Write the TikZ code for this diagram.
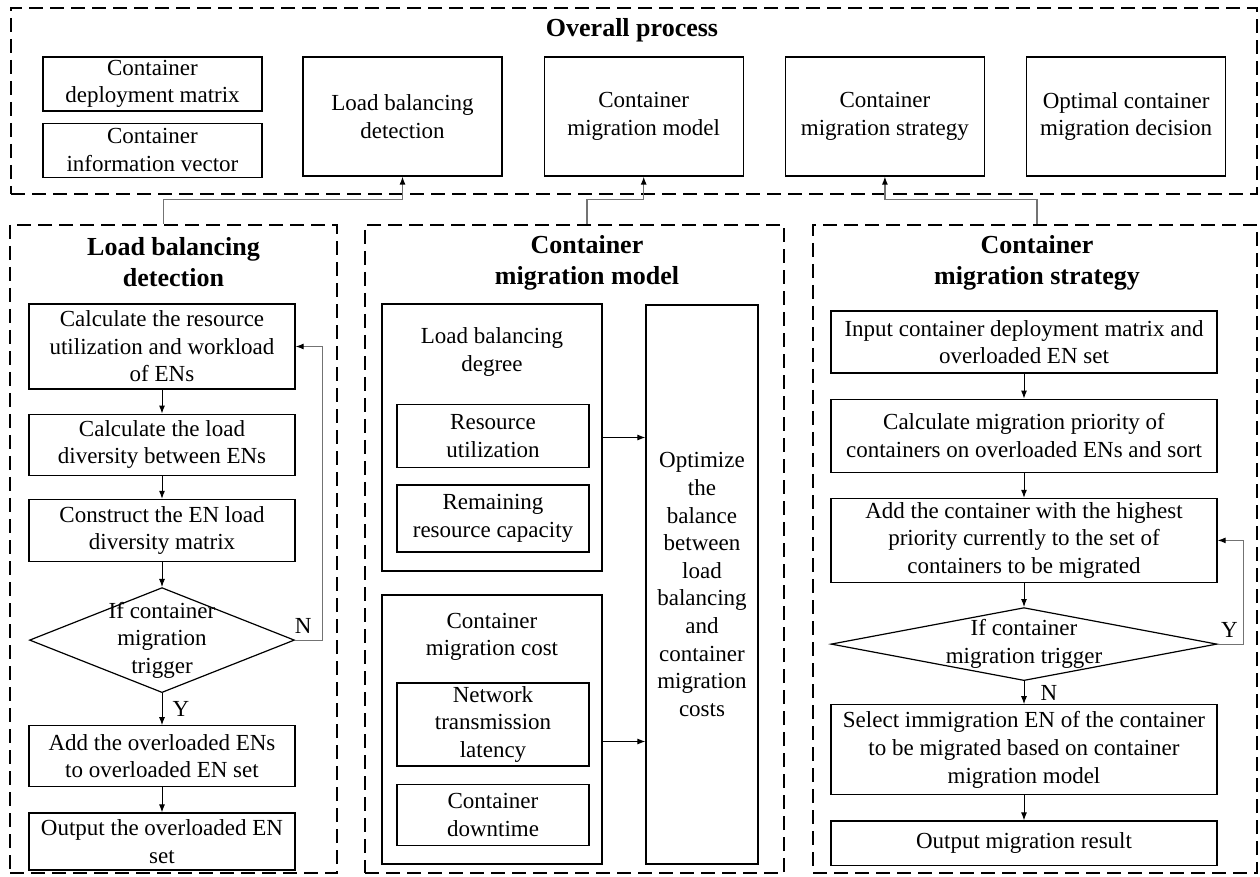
\documentclass[tikz,border=0pt]{standalone}
\usepackage{fontspec}
\setmainfont{Liberation Serif}
\usepackage{tikz}
\usetikzlibrary{arrows.meta,positioning,shapes.geometric}

\begin{document}
\begin{tikzpicture}[
  x=0.5pt, y=-0.5pt,
  every node/.style={font=\fontsize{11.5}{13.8}\selectfont},
  dashframe/.style={draw, line width=1.2pt, dash pattern=on 7pt off 3.5pt},
  heading/.style={align=center, font=\fontsize{13}{15.5}\selectfont\bfseries},
  box/.style={draw, line width=0.6pt, align=center, inner sep=1pt},
  cond/.style={draw, diamond, line width=0.6pt, inner sep=0pt},
  grouptitle/.style={anchor=north, align=center, inner sep=0pt},
  tag/.style={inner sep=3pt, text=black},
  arr/.style={-{Latex[length=4pt,width=3pt]}, line width=0.5pt},
  link/.style={-{Latex[length=4pt,width=3pt,color=black]}, line width=0.6pt, black!55}
]
  \useasboundingbox (0,0) rectangle (1260,877);

  % overall process
  \node[dashframe, minimum width=623pt, minimum height=93pt] (overall) at (634,101) {};
  \node[heading] (overalltitle) at (632,30) {Overall process};
  \node[box, minimum width=109.5pt, minimum height=27pt] (deploy) at (152.5,84) {Container\\deployment matrix};
  \node[box, minimum width=109.5pt, minimum height=27pt, below=5.5pt of deploy] (info) {Container\\information vector};
  \node[box, minimum width=99.5pt, minimum height=59.5pt] (lbd) at (402.5,116.5) {Load balancing\\detection};
  \node[box, minimum width=99.5pt, minimum height=59.5pt, right=20.5pt of lbd] (cmm) {Container\\migration model};
  \node[box, minimum width=99.5pt, minimum height=59.5pt, right=20.5pt of cmm] (cms) {Container\\migration strategy};
  \node[box, minimum width=99.5pt, minimum height=59.5pt, right=20.5pt of cms] (ocmd) {Optimal container\\migration decision};

  % lower panels
  \node[dashframe, minimum width=163.5pt, minimum height=324pt] (lbdpanel) at (173.5,549) {};
  \node[heading] (lbdtitle) at (173.5,262.5) {Load balancing\\detection};
  \node[dashframe, minimum width=209.5pt, minimum height=324pt] (cmmpanel) at (574.5,549) {};
  \node[heading] (cmmtitle) at (587,262.5) {Container\\migration model};
  \node[dashframe, minimum width=222pt, minimum height=324pt] (cmspanel) at (1035,549) {};
  \node[heading] (cmstitle) at (1037,262.5) {Container\\migration strategy};

  \draw[link] ([xshift=-5pt]lbdtitle.north |- lbdpanel.north) -- ++(0,-24) -| (lbd.south);
  \draw[link] (cmmtitle |- cmmpanel.north) -- ++(0,-24) -| (cmm.south);
  \draw[link] (cmstitle |- cmspanel.north) -- ++(0,-24) -| (cms.south);

  % load balancing detection
  \node[box, minimum width=133pt, minimum height=42.5pt] (calc) at (162,346.5) {Calculate the resource\\utilization and workload\\of ENs};
  \node[box, minimum width=133pt, minimum height=30.5pt, below=12pt of calc] (diver) {Calculate the load\\diversity between ENs};
  \node[box, minimum width=133pt, minimum height=31pt, below=11.5pt of diver] (matrix) {Construct the EN load\\diversity matrix};
  \node[cond, minimum width=132.5pt, minimum height=52.5pt, below=12.5pt of matrix,
        label={[align=center]center:If container\\migration\\trigger}] (trig) {};
  \node[box, minimum width=133pt, minimum height=30.5pt, below=16pt of trig] (addset) {Add the overloaded ENs\\to overloaded EN set};
  \node[box, minimum width=133pt, minimum height=28.5pt, below=12.5pt of addset] (outset) {Output the overloaded EN\\set};

  \draw[arr] (calc) -- (diver);
  \draw[arr] (diver) -- (matrix);
  \draw[arr] (matrix) -- (trig);
  \draw[arr] (trig) -- node[tag, right, xshift=2pt] {Y} (addset);
  \draw[arr] (addset) -- (outset);
  \draw[link] (trig.east) -- node[tag, above, pos=0.3] {N} ++(27,0) |- (calc.east);

  % container migration model
  \node[box, minimum width=110pt, minimum height=133.5pt,
        label={[grouptitle, yshift=-12pt]north:Load balancing\\degree}] (degree) at (492,437.5) {};
  \node[box, minimum width=96pt, minimum height=31.75pt] (util) at (493,436) {Resource\\utilization};
  \node[box, minimum width=96pt, minimum height=33.5pt, below=8pt of util] (remain) {Remaining\\resource capacity};
  \node[box, minimum width=110pt, minimum height=134.5pt,
        label={[grouptitle, yshift=-9pt]north:Container\\migration cost}] (cost) at (492,729.5) {};
  \node[box, minimum width=96pt, minimum height=41.5pt] (latency) at (493,724.5) {Network\\transmission\\latency};
  \node[box, minimum width=96pt, minimum height=30.5pt, below=8.5pt of latency] (downtime) {Container\\downtime};
  \node[box, minimum width=56pt, minimum height=279.5pt] (optim) at (702,584.5) {Optimize\\the\\balance\\between\\load\\balancing\\and\\container\\migration\\costs};

  \draw[arr] (degree.east) -- (degree.east -| optim.west);
  \draw[arr] ([yshift=-6pt]cost.east) -- ([yshift=-6pt]cost.east -| optim.west);

  % container migration strategy
  \node[box, minimum width=193pt, minimum height=31pt] (input) at (1024,342) {Input container deployment matrix and\\overloaded EN set};
  \node[box, minimum width=193pt, minimum height=36.5pt, below=12.5pt of input] (prio) {Calculate migration priority of\\containers on overloaded ENs and sort};
  \node[box, minimum width=193pt, minimum height=42pt, below=12.5pt of prio] (pick) {Add the container with the highest\\priority currently to the set of\\containers to be migrated};
  \node[cond, minimum width=193pt, minimum height=36.5pt, below=12pt of pick,
        label={[align=center]center:If container\\migration trigger}] (trig2) {};
  \node[box, minimum width=193pt, minimum height=45pt, below=11.5pt of trig2] (select) {Select immigration EN of the container\\to be migrated based on container\\migration model};
  \node[box, minimum width=193pt, minimum height=22.25pt, below=12.5pt of select] (result) {Output migration result};

  \draw[arr] (input) -- (prio);
  \draw[arr] (prio) -- (pick);
  \draw[arr] (pick) -- (trig2);
  \draw[arr] (trig2) -- node[tag, right, xshift=5pt] {N} (select);
  \draw[arr] (select) -- (result);
  \draw[link] (trig2.east) -- node[tag, above, pos=0.45] {Y} ++(26,0) |- (pick.east);
\end{tikzpicture}
\end{document}
